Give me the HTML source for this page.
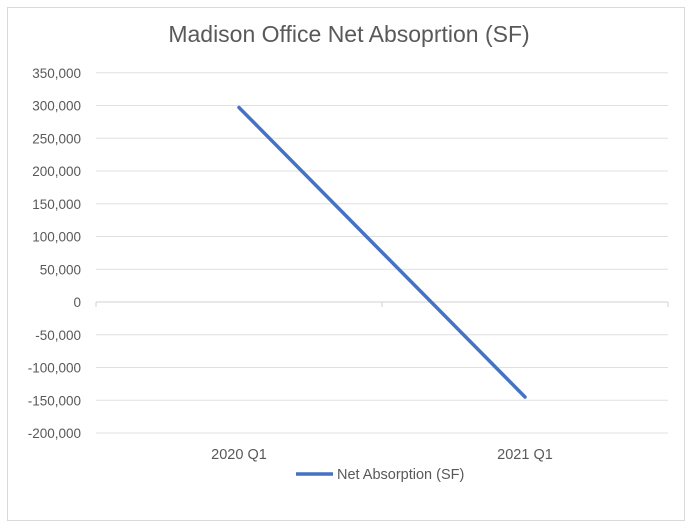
<!DOCTYPE html>
<html><head><meta charset="utf-8"><style>
body{margin:0;background:#fff;}
svg{display:block;font-family:"Liberation Sans",Calibri,sans-serif;}
</style></head><body>
<svg width="692" height="532">
<rect x="7.5" y="7.5" width="677" height="513" fill="#fff" stroke="#d9d9d9"/>
<text x="349" y="42" text-anchor="middle" font-size="23" fill="#595959">Madison Office Net Absoprtion (SF)</text>
<g id="grid"></g><g id="ylabels"></g><g id="xlabels"></g><g id="series"></g>
<line x1="296" y1="474" x2="333" y2="474" stroke="#4472c4" stroke-width="3.5"/>
<text x="337" y="479" font-size="14.5" fill="#595959">Net Absorption (SF)</text>
</svg>
<script>
const categories=["2020 Q1","2021 Q1"];
const values=[297000,-145000];
const yTicks=[350000,300000,250000,200000,150000,100000,50000,0,-50000,-100000,-150000,-200000];
const NS="http://www.w3.org/2000/svg";
const left=96,right=668,y0=302,perUnit=32.75/50000;
function y(v){return y0-v*perUnit;}
function x(i){const w=(right-left)/categories.length;return left+w*(i+0.5);}
function mk(t,a,p){const e=document.createElementNS(NS,t);for(const k in a)e.setAttribute(k,a[k]);p.appendChild(e);return e;}
const g=document.getElementById('grid'),yl=document.getElementById('ylabels'),xl=document.getElementById('xlabels'),s=document.getElementById('series');
yTicks.forEach(v=>{
 const l=mk('line',{x1:left,x2:right,y1:y(v),y2:y(v),stroke:v===0?'#d0d0d0':'#e0e0e0','stroke-width':1},g);
 
 
 const t=mk('text',{x:81,y:y(v)+5,'text-anchor':'end','font-size':13.5,fill:'#595959'},yl);
 t.textContent=v.toLocaleString('en-US');
 
 
});
for(let i=0;i<=categories.length;i++){
 const xx=left+(right-left)/categories.length*i;
 const tk=mk('line',{x1:xx,x2:xx,y1:y0,y2:y0+5,stroke:'#d0d0d0'},g);
 
 
}
categories.forEach((c,i)=>{
 const t=mk('text',{x:x(i),y:459,'text-anchor':'middle','font-size':14.5,fill:'#595959'},xl);
 t.textContent=c;
 
 
});
const p=mk('polyline',{points:values.map((v,i)=>x(i)+','+y(v)).join(' '),fill:'none',stroke:'#4472c4','stroke-width':3.5,'stroke-linecap':'round'},s);


</script>
</body></html>
